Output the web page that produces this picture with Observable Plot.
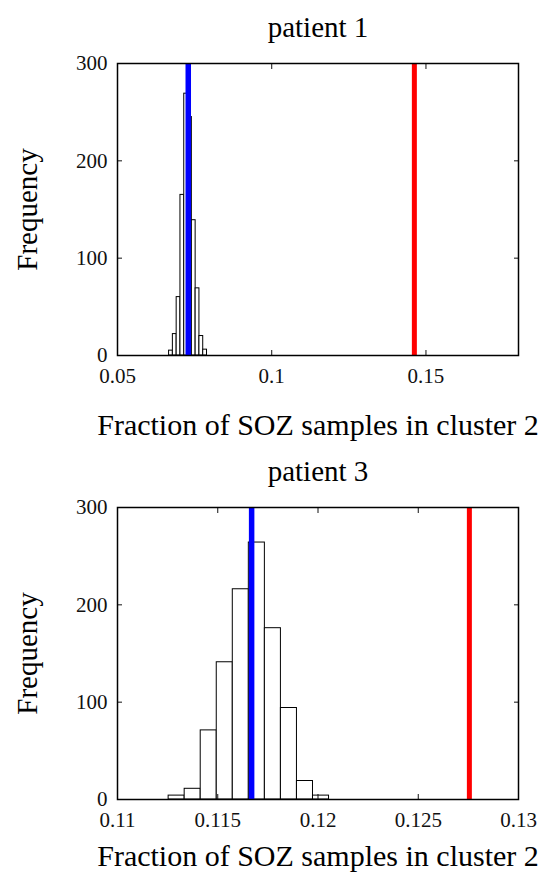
<!DOCTYPE html>
<html>
<head>
<meta charset="utf-8">
<script src="https://cdn.jsdelivr.net/npm/d3@7"></script>
<script src="https://cdn.jsdelivr.net/npm/@observablehq/plot@0.6"></script>
<style>
  html, body { margin: 0; padding: 0; background: #fff; }
  #chart { width: 548px; }
  #chart svg { display: block; }
</style>
</head>
<body>
<div id="chart"></div>
<script>
// ---- Panel 1 (patient 1) ----
const title1 = "patient 1";
const edges1 = [0.06672, 0.06795, 0.06918, 0.07041, 0.07164, 0.07287, 0.07410, 0.07533, 0.07656, 0.07779, 0.07902];
const counts1 = [5, 22, 60, 165, 269, 245, 139, 69, 20, 6];
const nullValue1 = 0.07294;   // blue line
const observed1 = 0.14624;    // red line
const xDomain1 = [0.05, 0.18];
const xTicks1 = [0.05, 0.1, 0.15];

// ---- Panel 2 (patient 3) ----
const title2 = "patient 3";
const edges2 = [0.11255, 0.11335, 0.11415, 0.11495, 0.11575, 0.11655, 0.11735, 0.11815, 0.11895, 0.11975, 0.12055];
const counts2 = [4, 11, 71, 141, 216, 264, 176, 94, 19, 4];
const nullValue2 = 0.11669;
const observed2 = 0.12755;
const xDomain2 = [0.11, 0.13];
const xTicks2 = [0.11, 0.115, 0.12, 0.125, 0.13];

// ---- shared ----
const yDomain = [0, 300];
const yTicks = [0, 100, 200, 300];
const xLabel = "Fraction of SOZ samples in cluster 2";
const yLabel = "Frequency";

const serif = "'Liberation Serif', 'DejaVu Serif', serif";
const fmt = d => String(+d.toFixed(6));

function panel({title, edges, counts, nullValue, observed, xDomain, xTicks, height, marginBottom, xLabelDy}) {
  const bins = counts.map((c, i) => ({x1: edges[i], x2: edges[i + 1], y: c}));
  const label = {fontFamily: serif, lineAnchor: "middle", textAnchor: "middle", fill: "#000"};
  return Plot.plot({
    width: 548,
    height,
    marginLeft: 117,
    marginRight: 30,
    marginTop: 63,
    marginBottom,
    style: {fontFamily: serif, fontSize: "21px", color: "#111", background: "#fff"},
    x: {domain: xDomain},
    y: {domain: yDomain},
    marks: [
      Plot.rectY(bins, {x1: "x1", x2: "x2", y: "y", fill: "white", stroke: "black", strokeWidth: 1, inset: 0}),
      Plot.ruleX([nullValue], {stroke: "#0000ff", strokeWidth: 5.5}),
      Plot.ruleX([observed], {stroke: "#ff0000", strokeWidth: 5}),
      Plot.axisX({ticks: xTicks, tickFormat: fmt, tickSize: -5, tickPadding: 18, label: null}),
      Plot.axisX({anchor: "top", ticks: xTicks, tickFormat: () => "", tickSize: -5, label: null}),
      Plot.axisY({ticks: yTicks, tickFormat: fmt, tickSize: -5, tickPadding: 15, label: null}),
      Plot.axisY({anchor: "right", ticks: yTicks, tickFormat: () => "", tickSize: -5, label: null}),
      Plot.frame({stroke: "black", strokeWidth: 1.5}),
      Plot.text([title], {...label, fontSize: 29, frameAnchor: "top", dy: -36}),
      Plot.text([xLabel], {...label, fontSize: 30, frameAnchor: "bottom", dy: xLabelDy}),
      Plot.text([yLabel], {...label, fontSize: 29, frameAnchor: "left", dx: -90, rotate: -90})
    ]
  });
}

const chart = document.getElementById("chart");
chart.append(panel({title: title1, edges: edges1, counts: counts1, nullValue: nullValue1, observed: observed1,
  xDomain: xDomain1, xTicks: xTicks1, height: 444, marginBottom: 89, xLabelDy: 70}));
chart.append(panel({title: title2, edges: edges2, counts: counts2, nullValue: nullValue2, observed: observed2,
  xDomain: xDomain2, xTicks: xTicks2, height: 438, marginBottom: 83, xLabelDy: 57}));
</script>
</body>
</html>
